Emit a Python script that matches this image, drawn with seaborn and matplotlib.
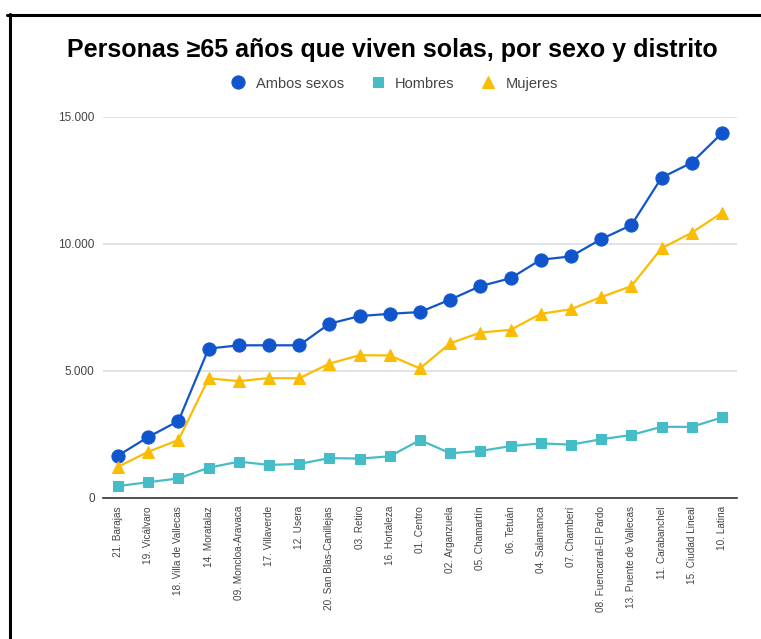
import matplotlib
matplotlib.use("Agg")
import matplotlib.pyplot as plt
from matplotlib.lines import Line2D
from matplotlib.ticker import FixedLocator
from matplotlib import font_manager
import seaborn as sns
import pandas as pd

distritos = [
    "21. Barajas", "19. Vicálvaro", "18. Villa de Vallecas", "14. Moratalaz",
    "09. Moncloa-Aravaca", "17. Villaverde", "12. Usera", "20. San Blas-Canillejas",
    "03. Retiro", "16. Hortaleza", "01. Centro", "02. Arganzuela", "05. Chamartín",
    "06. Tetuán", "04. Salamanca", "07. Chamberí", "08. Fuencarral-El Pardo",
    "13. Puente de Vallecas", "11. Carabanchel", "15. Ciudad Lineal", "10. Latina",
]
ambos = [1660, 2390, 3020, 5870, 6000, 6000, 6000, 6850, 7150, 7240, 7310,
         7800, 8330, 8640, 9370, 9500, 10180, 10730, 12600, 13190, 14350]
hombres = [460, 610, 760, 1180, 1420, 1290, 1330, 1560, 1540, 1630, 2270,
           1750, 1840, 2030, 2140, 2090, 2300, 2470, 2790, 2790, 3160]
mujeres = [1220, 1810, 2270, 4700, 4590, 4710, 4700, 5280, 5610, 5600, 5090,
           6080, 6500, 6610, 7240, 7420, 7900, 8330, 9820, 10430, 11220]
series = ["Ambos sexos", "Hombres", "Mujeres"]
y_ticks = [0, 5000, 10000, 15000]
y_labels = ["0", "5.000", "10.000", "15.000"]

colores = {"Ambos sexos": "#1155cc", "Hombres": "#46bdc6", "Mujeres": "#fbbc04"}
marcadores = {"Ambos sexos": "o", "Hombres": "s", "Mujeres": "^"}
tamanos = {"Ambos sexos": 9.5, "Hombres": 7, "Mujeres": 8.5}

filas = []
for nombre, valores in zip(series, [ambos, hombres, mujeres]):
    for i, (d, v) in enumerate(zip(distritos, valores)):
        filas.append({"pos": i, "distrito": d, "serie": nombre, "valor": v})
df = pd.DataFrame(filas)

sns.set_theme(style="white")
plt.rcParams["font.family"] = ["Liberation Sans", "DejaVu Sans"]

# condensed face for the district names when available
try:
    font_manager.findfont(font_manager.FontProperties(family="Liberation Sans Narrow"),
                          fallback_to_default=False)
    fam_x, size_x = ["Liberation Sans Narrow", "Liberation Sans"], 8.2
except Exception:
    fam_x, size_x = ["Liberation Sans"], 7.2

fig = plt.figure(figsize=(7.61, 6.39), dpi=100)
ax = fig.add_axes([0.1353, 0.2211, 0.8332, 0.5963])

for nombre in series:
    sub = df[df["serie"] == nombre]
    sns.lineplot(data=sub, x="pos", y="valor", ax=ax, color=colores[nombre],
                 marker=marcadores[nombre], markersize=tamanos[nombre],
                 markeredgecolor=colores[nombre], linewidth=1.6,
                 label=nombre, clip_on=False, zorder=3)

ax.set_xlim(-0.5, len(distritos) - 0.5)
ax.set_ylim(0, 15000)
ax.yaxis.set_major_locator(FixedLocator(y_ticks))
ax.set_yticklabels(y_labels, fontsize=8.5, color="#444444")
ax.set_xticks(range(len(distritos)))
ax.set_xticklabels(distritos, rotation=90, fontsize=size_x, color="#444444",
                   family=fam_x)
ax.tick_params(axis="both", length=0, pad=6)
ax.set_xlabel("")
ax.set_ylabel("")
ax.grid(axis="y", color="#e0e0e0", linewidth=1.3)
ax.grid(axis="x", visible=False)
for s in ["top", "right", "left"]:
    ax.spines[s].set_visible(False)
ax.spines["bottom"].set_color("#333333")
ax.spines["bottom"].set_linewidth(1.2)
ax.spines["bottom"].set_zorder(2)

leg = ax.legend(loc="center", bbox_to_anchor=(0.46, 1.087), ncol=3, frameon=False,
                fontsize=10.5, handlelength=1.0, handletextpad=0.7, columnspacing=1.8)
for h in leg.legend_handles:
    h.set_linestyle("")
for t in leg.get_texts():
    t.set_color("#444444")

fig.text(0.516, 0.921, "Personas ≥65 años que viven solas, por sexo y distrito",
         ha="center", va="center", fontsize=18, fontweight="bold", color="#000000")

# frame lines along the top and left edges
fig.add_artist(Line2D([7 / 761, 1.0], [1 - 15 / 639, 1 - 15 / 639],
                      transform=fig.transFigure, color="#000000", linewidth=2.2))
fig.add_artist(Line2D([10 / 761, 10 / 761], [1 - 14 / 639, 0.0],
                      transform=fig.transFigure, color="#000000", linewidth=2.2))

fig.savefig("out.png", dpi=100, facecolor="white")
